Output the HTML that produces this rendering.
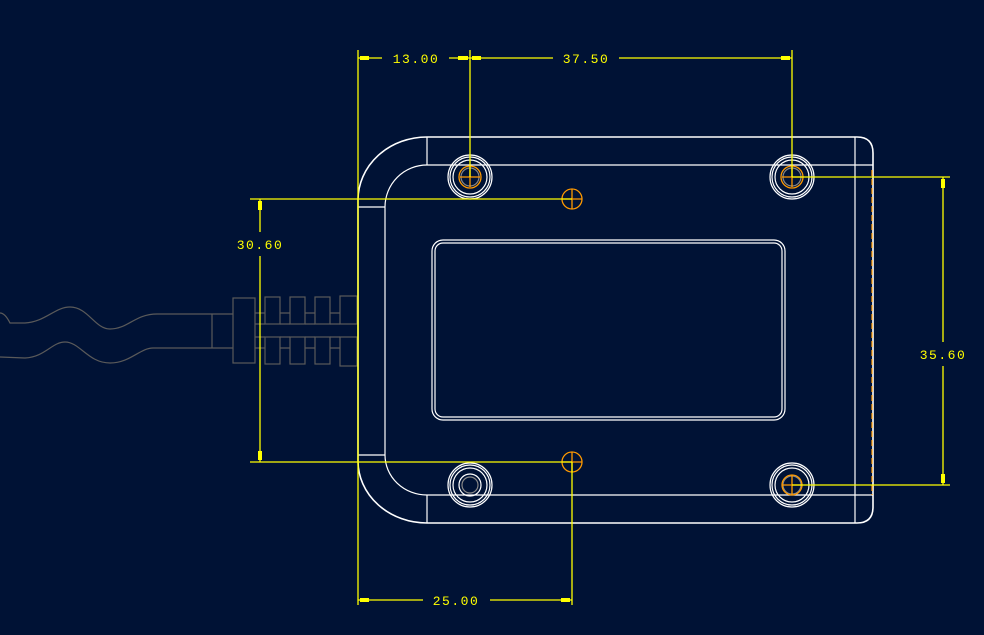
<!DOCTYPE html>
<html><head><meta charset="utf-8"><style>
html,body{margin:0;padding:0;background:#001235;}
svg{display:block}
text{font-family:"Liberation Mono",monospace;font-size:13px;fill:#ffff00;letter-spacing:1.5px}
</style></head><body>
<svg width="984" height="635" viewBox="0 0 984 635" xmlns="http://www.w3.org/2000/svg">
<rect width="984" height="635" fill="#001235"/>
<!-- cable -->
<g fill="none" stroke="#5a5a5a" stroke-width="1.2">
<path d="M0,313 Q5,313 10,323 L25,323 C45,322 55,307 70,307 C88,307 95,329 110,329 C128,329 135,314 157,314 L212,314"/>
<path d="M0,357 L25,358 C45,357 52,342 65,342 C80,342 88,363 110,363 C130,363 140,348 153,348 L212,348"/>
<line x1="212" y1="314" x2="212" y2="348"/>
<line x1="212" y1="314" x2="233" y2="314"/><line x1="212" y1="348" x2="233" y2="348"/>
<rect x="233" y="298" width="22" height="65"/>
<rect x="265" y="297" width="15" height="27"/><rect x="290" y="297" width="15" height="27"/><rect x="315" y="297" width="15" height="27"/><rect x="340" y="296" width="17" height="28"/>
<rect x="265" y="337" width="15" height="27"/><rect x="290" y="337" width="15" height="27"/><rect x="315" y="337" width="15" height="27"/><rect x="340" y="337" width="17" height="29"/>
<path d="M255,313H265M280,313H290M305,313H315M330,313H340M255,324H265M280,324H290M305,324H315M330,324H340"/>
<path d="M255,348H265M280,348H290M305,348H315M330,348H340M255,337H265M280,337H290M305,337H315M330,337H340"/>
</g>
<!-- body -->
<g fill="none" stroke="#ffffff" stroke-width="1.6">
<path d="M427,137 L857,137 Q873,137 873,153 L873,507 Q873,523 857,523 L427,523 A69,62 0 0 1 358,461 L358,200 A69,63 0 0 1 427,137 Z"/>
<path d="M427,165 A42,42 0 0 0 385,207 L385,455 A42,40 0 0 0 427,495" stroke-width="1.2"/>
<line x1="358" y1="207" x2="385" y2="207" stroke-width="1.2"/>
<line x1="358" y1="455" x2="385" y2="455" stroke-width="1.2"/>
<line x1="427" y1="137" x2="427" y2="165" stroke-width="1.2"/>
<line x1="427" y1="495" x2="427" y2="523" stroke-width="1.2"/>
<line x1="427" y1="165" x2="873" y2="165" stroke-width="1.2"/>
<line x1="427" y1="495" x2="873" y2="495" stroke-width="1.2"/>
<line x1="855" y1="137" x2="855" y2="523" stroke-width="1.2"/>
<rect x="432" y="240" width="353" height="180" rx="11" stroke-width="1.2"/>
<rect x="435" y="243" width="347" height="174" rx="8" stroke-width="1.2"/>
</g>
<line x1="872" y1="170" x2="872" y2="495" stroke="#ff9900" stroke-width="1.2" stroke-dasharray="6,3"/>
<!-- holes -->
<g fill="none" stroke="#ffffff" stroke-width="1.2">
<circle cx="470" cy="177" r="22"/><circle cx="470" cy="177" r="20"/><circle cx="470" cy="177" r="17"/>
<circle cx="792" cy="177" r="22"/><circle cx="792" cy="177" r="20"/><circle cx="792" cy="177" r="17"/>
<circle cx="470" cy="485" r="22"/><circle cx="470" cy="485" r="20"/><circle cx="470" cy="485" r="17"/><circle cx="470" cy="485" r="11"/>
<circle cx="792" cy="485" r="22"/><circle cx="792" cy="485" r="20"/><circle cx="792" cy="485" r="17"/>
</g>
<g fill="none" stroke="#888" stroke-width="1.2">
<circle cx="470" cy="177" r="9"/><circle cx="792" cy="177" r="9"/><circle cx="470" cy="485" r="8"/><circle cx="792" cy="485" r="9"/>
</g>
<g fill="none" stroke="#ff9900" stroke-width="1.3">
<circle cx="470" cy="177" r="11"/><path d="M460,177h20M470,167v20"/>
<circle cx="792" cy="177" r="11"/><path d="M782,177h20M792,167v20"/>
<circle cx="792" cy="485" r="10"/><path d="M782,485h20M792,475v20"/>
<circle cx="572" cy="199" r="10"/><path d="M562,199h20M572,189v20"/>
<circle cx="572" cy="462" r="10"/><path d="M562,462h20M572,452v20"/>
</g>
<!-- dimensions -->
<g stroke="#ffff00" stroke-width="1.3" fill="none">
<line x1="358" y1="50" x2="358" y2="605"/>
<line x1="470" y1="50" x2="470" y2="177"/>
<line x1="792" y1="50" x2="792" y2="177"/>
<line x1="358" y1="58" x2="382" y2="58"/><line x1="449" y1="58" x2="470" y2="58"/>
<line x1="470" y1="58" x2="553" y2="58"/><line x1="619" y1="58" x2="792" y2="58"/>
<line x1="250" y1="199" x2="572" y2="199"/>
<line x1="250" y1="462" x2="572" y2="462"/>
<line x1="260" y1="199" x2="260" y2="232"/><line x1="260" y1="256" x2="260" y2="462"/>
<line x1="792" y1="177" x2="950" y2="177"/><line x1="792" y1="485" x2="950" y2="485"/>
<line x1="943" y1="177" x2="943" y2="342"/><line x1="943" y1="366" x2="943" y2="485"/>
<line x1="572" y1="462" x2="572" y2="605"/>
<line x1="358" y1="600" x2="423" y2="600"/><line x1="490" y1="600" x2="572" y2="600"/>
</g>
<g fill="#ffff00">
<rect x="360" y="56" width="9" height="4"/><rect x="458" y="56" width="10" height="4"/><rect x="472" y="56" width="9" height="4"/><rect x="781" y="56" width="9" height="4"/>
<rect x="258" y="201" width="4" height="9"/><rect x="258" y="451" width="4" height="9"/>
<rect x="941" y="179" width="4" height="9"/><rect x="941" y="474" width="4" height="9"/>
<rect x="360" y="598" width="9" height="4"/><rect x="561" y="598" width="9" height="4"/>
</g>
<text x="416" y="63" text-anchor="middle">13.00</text>
<text x="586" y="63" text-anchor="middle">37.50</text>
<text x="260" y="249" text-anchor="middle">30.60</text>
<text x="943" y="359" text-anchor="middle">35.60</text>
<text x="456" y="605" text-anchor="middle">25.00</text>
</svg>
</body></html>
